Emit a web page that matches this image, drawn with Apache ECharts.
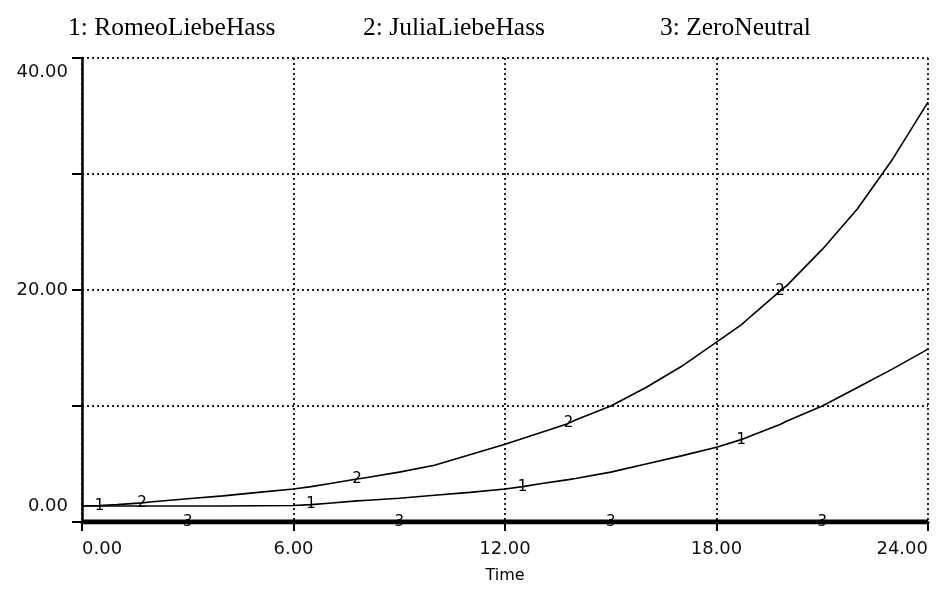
<!DOCTYPE html>
<html>
<head>
<meta charset="utf-8">
<script src="https://cdn.jsdelivr.net/npm/echarts@6/dist/echarts.min.js"></script>
<style>
  html, body { margin: 0; padding: 0; background: #fff; }
  #chart { width: 936px; height: 589px; }
</style>
</head>
<body>
<div id="chart"></div>
<script>
// time points
var times = [0, 0.5, 1, 1.7, 2, 3, 4, 5, 6, 6.5, 7, 7.8, 8, 9, 10, 11, 12, 12.5, 13, 13.8, 14, 15, 16, 17, 18, 18.7, 19, 19.8, 20, 21, 22, 23, 24];
var romeo = [1.38, 1.38, 1.38, 1.38, 1.38, 1.38, 1.38, 1.4, 1.42, 1.5, 1.62, 1.82, 1.86, 2.05, 2.3, 2.55, 2.85, 3.05, 3.3, 3.65, 3.75, 4.3, 5.0, 5.7, 6.45, 7.1, 7.45, 8.4, 8.7, 10.0, 11.6, 13.2, 14.9];
var julia = [1.4, 1.42, 1.5, 1.65, 1.75, 2.0, 2.25, 2.55, 2.85, 3.05, 3.3, 3.7, 3.8, 4.3, 4.9, 5.8, 6.7, 7.2, 7.7, 8.5, 8.8, 10.0, 11.6, 13.4, 15.5, 17.0, 17.8, 19.9, 20.4, 23.5, 27.0, 31.3, 36.2];
var zero = [0, 0, 0, 0, 0, 0, 0, 0, 0, 0, 0, 0, 0, 0, 0, 0, 0, 0, 0, 0, 0, 0, 0, 0, 0, 0, 0, 0, 0, 0, 0, 0, 0];

// where the little series numbers sit on each curve
var romeoMarks = [0.5, 6.5, 12.5, 18.7];
var juliaMarks = [1.7, 7.8, 13.8, 19.8];
var zeroMarks = [3, 9, 15, 21];

var seriesNames = ['1: RomeoLiebeHass', '2: JuliaLiebeHass', '3: ZeroNeutral'];
var xTicks = [0, 6, 12, 18, 24];
var yLabels = [0, 20, 40];

function buildData(values, marks, num) {
	var out = [];
	for (var i = 0; i < times.length; i++) {
		var item = { value: [times[i], values[i]] };
		if (marks.indexOf(times[i]) >= 0) {
			item.symbol = 'circle';
			item.symbolSize = 2;
			item.itemStyle = { color: 'rgba(0,0,0,0)', borderWidth: 0 };
			item.label = {
				show: true,
				position: 'inside',
				formatter: String(num),
				color: '#000',
				fontFamily: 'DejaVu Sans',
				fontSize: 15
			};
		}
		out.push(item);
	}
	return out;
}

var chart = echarts.init(document.getElementById('chart'));

var titleLeft = [68, 363, 660];
var titles = seriesNames.map(function (n, i) {
	return {
		text: n,
		left: titleLeft[i],
		top: 15,
		padding: 0,
		textStyle: { fontFamily: 'Liberation Serif', fontWeight: 'normal', fontSize: 25.5, color: '#000' }
	};
});

var option = {
	animation: false,
	backgroundColor: '#fff',
	title: titles,
	grid: { left: 82, right: 8, top: 58, bottom: 66 },
	xAxis: {
		type: 'value',
		min: 0,
		max: 24,
		interval: 6,
		name: 'Time',
		nameLocation: 'middle',
		nameGap: 46,
		nameTextStyle: { fontFamily: 'DejaVu Sans', fontSize: 16, color: '#000' },
		axisLine: { lineStyle: { color: '#000', width: 3 } },
		axisTick: { show: true, length: 9, lineStyle: { color: '#000', width: 2 } },
		axisLabel: {
			margin: 18,
			fontFamily: 'DejaVu Sans',
			fontSize: 18,
			color: '#111',
			alignMinLabel: 'left',
			alignMaxLabel: 'right',
			formatter: function (v) { return xTicks.indexOf(v) >= 0 ? v.toFixed(2) : ''; }
		},
		splitLine: { show: true, lineStyle: { color: '#222', width: 2, type: [2, 3] } }
	},
	yAxis: {
		type: 'value',
		min: 0,
		max: 40,
		interval: 10,
		axisLine: { show: true, lineStyle: { color: '#000', width: 2.5 } },
		axisTick: { show: true, length: 10, lineStyle: { color: '#000', width: 2 } },
		axisLabel: {
			margin: 14,
			fontFamily: 'DejaVu Sans',
			fontSize: 18,
			color: '#111',
			formatter: function (v) {
				if (yLabels.indexOf(v) < 0) return '';
				if (v === 0) return '{lo|' + v.toFixed(2) + '}';
				if (v === 40) return '{hi|' + v.toFixed(2) + '}';
				return v.toFixed(2);
			},
			rich: {
				lo: { fontFamily: 'DejaVu Sans', fontSize: 18, color: '#111', padding: [0, 0, 32, 0] },
				hi: { fontFamily: 'DejaVu Sans', fontSize: 18, color: '#111', padding: [28, 0, 0, 0] }
			}
		},
		splitLine: { show: true, lineStyle: { color: '#222', width: 2, type: [2, 3] } }
	},
	series: [
		{
			name: seriesNames[0],
			type: 'line',
			symbol: 'none',
			lineStyle: { color: '#000', width: 1.6 },
			data: buildData(romeo, romeoMarks, 1)
		},
		{
			name: seriesNames[1],
			type: 'line',
			symbol: 'none',
			lineStyle: { color: '#000', width: 1.6 },
			data: buildData(julia, juliaMarks, 2)
		},
		{
			name: seriesNames[2],
			type: 'line',
			symbol: 'none',
			lineStyle: { color: '#000', width: 5 },
			data: buildData(zero, zeroMarks, 3)
		}
	]
};

chart.setOption(option);
</script>
</body>
</html>
